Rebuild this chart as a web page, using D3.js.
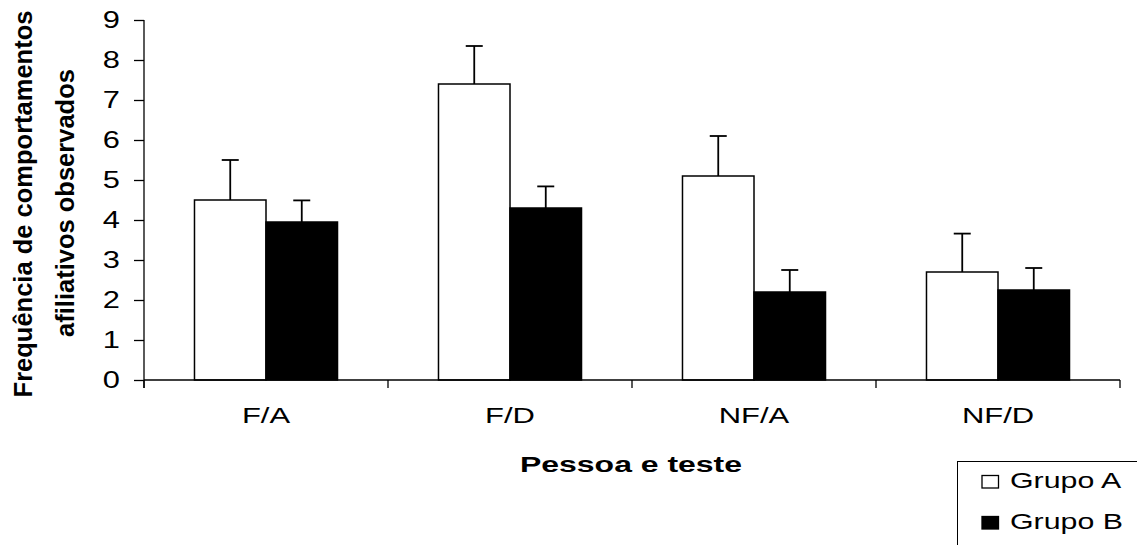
<!DOCTYPE html>
<html>
<head>
<meta charset="utf-8">
<script src="https://cdn.jsdelivr.net/npm/d3@7/dist/d3.min.js"></script>
<style>
  body { margin: 0; background: #fff; }
  svg { display: block; }
  text { font-family: "Liberation Sans", Arial, sans-serif; fill: #000; }
</style>
</head>
<body>
<svg id="chart" width="1137" height="545"></svg>
<script>
// ---- data ----
const categories = ["F/A", "F/D", "NF/A", "NF/D"];
const groups = ["Grupo A", "Grupo B"];
const grupoA = [4.5, 7.4, 5.1, 2.7];
const grupoAErr = [1.0, 0.95, 1.0, 0.96];
const grupoB = [3.95, 4.3, 2.2, 2.25];
const grupoBErr = [0.54, 0.54, 0.55, 0.55];
const yTicks = [0, 1, 2, 3, 4, 5, 6, 7, 8, 9];
const xTitle = "Pessoa e teste";
const yTitle = ["Frequência de comportamentos", "afiliativos observados"];

const rows = categories.map((c, i) => ({
  cat: c,
  vals: [
    { g: groups[0], v: grupoA[i], e: grupoAErr[i] },
    { g: groups[1], v: grupoB[i], e: grupoBErr[i] }
  ]
}));
const fills = { "Grupo A": "#fff", "Grupo B": "#000" };

// ---- layout ----
const svg = d3.select("#chart");
const pLeft = 144, pRight = 1120, pTop = 20, pBottom = 380;

const x = d3.scaleBand().domain(categories).range([pLeft, pRight]).padding(0);
const xg = d3.scaleBand().domain(groups).range([0, x.bandwidth()]).paddingInner(0).paddingOuter(0.706);
const y = d3.scaleLinear().domain([0, 9]).range([pBottom, pTop]);

// bars
const cat = svg.selectAll("g.cat").data(rows).join("g")
  .attr("class", "cat")
  .attr("transform", d => `translate(${x(d.cat)},0)`);

// error bars (behind bars)
cat.selectAll("g.err").data(d => d.vals).join("g").attr("class", "err")
  .each(function(d) {
    const g = d3.select(this);
    const cx = xg(d.g) + xg.bandwidth() / 2;
    g.append("line").attr("x1", cx).attr("x2", cx)
      .attr("y1", y(d.v)).attr("y2", y(d.v + d.e))
      .attr("stroke", "#000").attr("stroke-width", 1.8);
    g.append("line").attr("x1", cx - 8.5).attr("x2", cx + 8.5)
      .attr("y1", y(d.v + d.e)).attr("y2", y(d.v + d.e))
      .attr("stroke", "#000").attr("stroke-width", 1.8);
  });

cat.selectAll("rect").data(d => d.vals).join("rect")
  .attr("x", d => xg(d.g))
  .attr("width", xg.bandwidth())
  .attr("y", d => y(d.v))
  .attr("height", d => y(0) - y(d.v))
  .attr("fill", d => fills[d.g])
  .attr("stroke", "#000")
  .attr("stroke-width", 1.5);

// y axis
const yAxis = svg.append("g").attr("transform", `translate(${pLeft},0)`)
  .call(d3.axisLeft(y).tickValues(yTicks).tickSize(10).tickSizeOuter(0).tickPadding(14).tickFormat(d3.format("d")));
yAxis.select(".domain").remove();
yAxis.selectAll(".tick line").attr("stroke", "#000").attr("stroke-width", 1.3);
yAxis.selectAll(".tick text")
  .style("font-size", "23px")
  .attr("x", -24 / 1.34)
  .attr("transform", "scale(1.34,1)");
svg.append("line").attr("x1", pLeft).attr("x2", pLeft).attr("y1", pTop).attr("y2", pBottom + 8)
  .attr("stroke", "#000").attr("stroke-width", 1.3);

// x axis
const xAxis = svg.append("g").attr("transform", `translate(0,${pBottom})`)
  .call(d3.axisBottom(x).tickSize(0).tickPadding(27.5));
xAxis.select(".domain").remove();
xAxis.selectAll(".tick text")
  .style("font-size", "21.8px")
  .attr("transform", "scale(1.42,1)");
svg.append("line").attr("x1", pLeft).attr("x2", pRight).attr("y1", pBottom).attr("y2", pBottom)
  .attr("stroke", "#000").attr("stroke-width", 1.3);
const bounds = categories.map(c => x(c)).concat([x.range()[1]]);
svg.selectAll("line.xb").data(bounds).join("line").attr("class", "xb")
  .attr("x1", d => d).attr("x2", d => d).attr("y1", pBottom).attr("y2", pBottom + 8)
  .attr("stroke", "#000").attr("stroke-width", 1.3);

// x title
svg.append("g").attr("transform", `translate(${(pLeft + pRight) / 2 - 1},471.5) scale(1.42,1)`)
  .append("text").attr("text-anchor", "middle")
  .style("font-size", "22.5px").style("font-weight", "bold")
  .text(xTitle);

// y title
const yt = [{ t: yTitle[0], bx: 32, cy: 204 }, { t: yTitle[1], bx: 74, cy: 203 }];
yt.forEach(d => {
  svg.append("text")
    .attr("transform", `translate(${d.bx},${d.cy}) rotate(-90)`)
    .attr("text-anchor", "middle")
    .style("font-size", "25.5px").style("font-weight", "bold")
    .text(d.t);
});

// legend
const lg = svg.append("g");
lg.append("rect").attr("x", 957.5).attr("y", 461.5).attr("width", 200).attr("height", 120)
  .attr("fill", "none").attr("stroke", "#000").attr("stroke-width", 1);
const items = lg.selectAll("g.item").data(groups).join("g").attr("class", "item")
  .attr("transform", (d, i) => `translate(0,${i * 41})`);
items.append("rect").attr("x", 982).attr("y", 475.5).attr("width", 16.5).attr("height", 12.5)
  .attr("fill", d => fills[d]).attr("stroke", "#000").attr("stroke-width", 1.3);
items.append("g").attr("transform", "translate(1010,488) scale(1.36,1)")
  .append("text").style("font-size", "22.3px").text(d => d);
</script>
</body>
</html>
